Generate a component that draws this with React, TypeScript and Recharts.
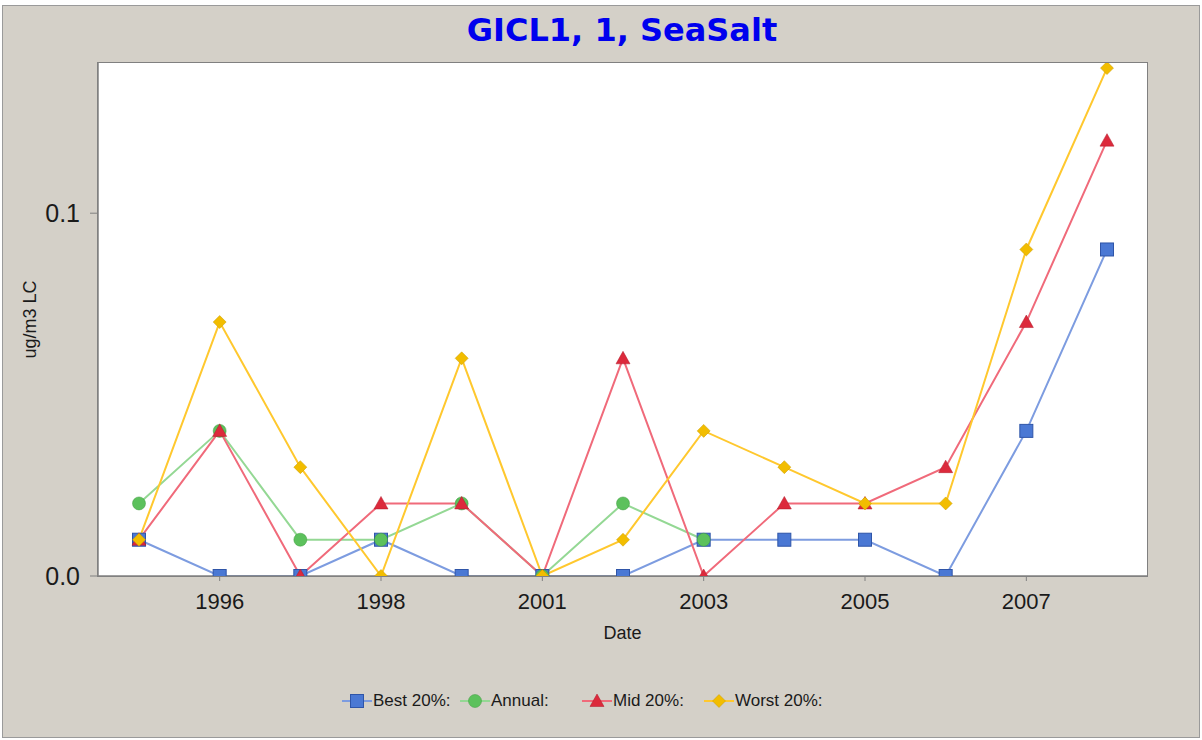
import React from "react";
import { LineChart, Line, XAxis, YAxis } from "recharts";

const years = ["1995", "1996", "1997", "1998", "2000", "2001", "2002", "2003", "2004", "2005", "2006", "2007", "2008"];
const best = [0.01, 0, 0, 0.01, 0, 0, 0, 0.01, 0.01, 0.01, 0, 0.04, 0.09];
const annual: (number | null)[] = [0.02, 0.04, 0.01, 0.01, 0.02, 0, 0.02, 0.01, null, null, null, null, null];
const mid = [0.01, 0.04, 0, 0.02, 0.02, 0, 0.06, 0, 0.02, 0.02, 0.03, 0.07, 0.12];
const worst = [0.01, 0.07, 0.03, 0, 0.06, 0, 0.01, 0.04, 0.03, 0.02, 0.02, 0.09, 0.14];
const xTicks = ["1996", "1998", "2001", "2003", "2005", "2007"];
const yTicks = [0, 0.1];

const data = years.map((y, i) => ({ year: y, best: best[i], annual: annual[i], mid: mid[i], worst: worst[i] }));

type Shape = "square" | "circle" | "triangle" | "diamond";

const series: { key: string; name: string; line: string; fill: string; edge: string; shape: Shape }[] = [
  { key: "best", name: "Best 20%:", line: "#7d9ce0", fill: "#4a78d4", edge: "#2f55a8", shape: "square" },
  { key: "annual", name: "Annual:", line: "#94d894", fill: "#5cc15c", edge: "#3f9a3f", shape: "circle" },
  { key: "mid", name: "Mid 20%:", line: "#f06a7a", fill: "#dc2a3c", edge: "#b01828", shape: "triangle" },
  { key: "worst", name: "Worst 20%:", line: "#ffc82e", fill: "#f2bd00", edge: "#c89a00", shape: "diamond" },
];

function Marker({ cx, cy, shape, fill, edge }: { cx: number; cy: number; shape: Shape; fill: string; edge: string }) {
  if (shape === "square") return <rect x={cx - 6.5} y={cy - 6.5} width={13} height={13} fill={fill} stroke={edge} strokeWidth={1} />;
  if (shape === "circle") return <circle cx={cx} cy={cy} r={6.5} fill={fill} stroke={edge} strokeWidth={0.5} />;
  if (shape === "triangle")
    return <polygon points={`${cx},${cy - 7} ${cx + 7},${cy + 5.5} ${cx - 7},${cy + 5.5}`} fill={fill} stroke={edge} strokeWidth={0.5} />;
  return <polygon points={`${cx},${cy - 6.5} ${cx + 6.5},${cy} ${cx},${cy + 6.5} ${cx - 6.5},${cy}`} fill={fill} stroke={edge} strokeWidth={0.5} />;
}

const FONT = "'Liberation Sans', Arial, sans-serif";

function YLabel(props: any) {
  const vb = props.viewBox || {};
  const cy = (vb.y || 0) + (vb.height || 0) / 2;
  const x = 36;
  return (
    <text x={x} y={cy} transform={`rotate(-90, ${x}, ${cy})`} textAnchor="middle" fill="#1a1a1a" fontSize={18} fontFamily={FONT}>
      ug/m3 LC
    </text>
  );
}

export default function App() {
  return (
    <div style={{ position: "absolute", left: 0, top: 0, width: 1202, height: 740, background: "#ffffff", fontFamily: FONT }}>
      <div
        style={{
          position: "absolute",
          left: 2,
          top: 5,
          width: 1198,
          height: 733,
          background: "#d4d0c8",
          border: "1px solid #9a9a9a",
          boxSizing: "border-box",
        }}
      />
      <div
        style={{
          position: "absolute",
          left: 97,
          top: 62,
          width: 1051,
          height: 515,
          background: "#ffffff",
          border: "1.5px solid #808080",
          boxSizing: "border-box",
        }}
      />
      <div
        style={{
          position: "absolute",
          left: 0,
          top: 11,
          width: 1244,
          textAlign: "center",
          color: "#0000ee",
          fontWeight: "bold",
          fontSize: 32,
          fontFamily: "'DejaVu Sans', Verdana, sans-serif",
        }}
      >
        GICL1, 1, SeaSalt
      </div>
      <div style={{ position: "absolute", left: 0, top: 0 }}>
        <LineChart width={1202} height={740} data={data} margin={{ top: 63, right: 55, bottom: 134, left: 38 }}>
          <XAxis
            dataKey="year"
            ticks={xTicks}
            interval={0}
            padding={{ left: 41, right: 40 }}
            tick={{ fill: "#1a1a1a", fontSize: 22, fontFamily: FONT, dy: 10 }}
            tickSize={5}
            tickLine={{ stroke: "#808080" }}
            axisLine={{ stroke: "#808080", strokeWidth: 1.5 }}
            height={30}
            label={{ value: "Date", position: "insideBottom", offset: -33, fill: "#1a1a1a", fontSize: 18, fontFamily: FONT }}
          />
          <YAxis
            domain={[0, 0.1414]}
            ticks={yTicks}
            allowDataOverflow
            tickFormatter={(v: number) => v.toFixed(1)}
            tick={{ fill: "#1a1a1a", fontSize: 25, fontFamily: FONT, dx: -8 }}
            tickSize={8}
            tickLine={{ stroke: "#808080" }}
            axisLine={{ stroke: "#808080", strokeWidth: 1.5 }}
            width={60}
            label={<YLabel />}
          />
          {series.map((s) => (
            <Line
              key={s.key}
              dataKey={s.key}
              name={s.name}
              stroke={s.line}
              strokeWidth={2}
              isAnimationActive={false}
              connectNulls={false}
              activeDot={false}
              dot={(p: any) =>
                p.cx == null || p.cy == null || p.value == null ? (
                  <g key={`${s.key}-${p.index}`} />
                ) : (
                  <Marker key={`${s.key}-${p.index}`} cx={p.cx} cy={p.cy} shape={s.shape} fill={s.fill} edge={s.edge} />
                )
              }
            />
          ))}
        </LineChart>
      </div>
      {series.map((s, i) => {
        const lefts = [342, 460, 582, 704];
        return (
          <div key={s.key} style={{ position: "absolute", left: lefts[i], top: 690, height: 22, display: "flex", alignItems: "center" }}>
            <svg width={30} height={22}>
              <line x1={0} y1={11} x2={30} y2={11} stroke={s.line} strokeWidth={2} />
              <Marker cx={15} cy={11} shape={s.shape} fill={s.fill} edge={s.edge} />
            </svg>
            <span style={{ fontSize: 17, color: "#1a1a1a", marginLeft: 1, fontFamily: FONT }}>{s.name}</span>
          </div>
        );
      })}
    </div>
  );
}
